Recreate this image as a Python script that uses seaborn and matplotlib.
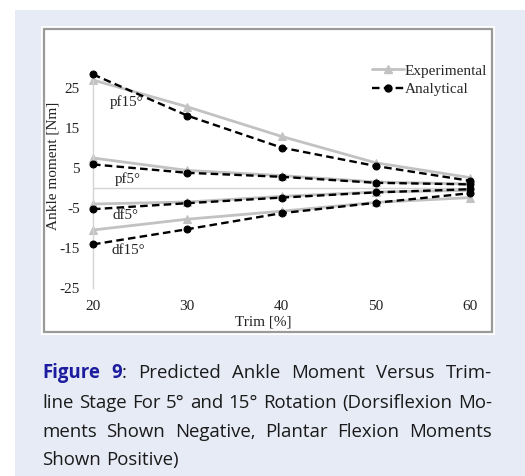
import numpy as np
import pandas as pd
import matplotlib
matplotlib.use("Agg")
import matplotlib.pyplot as plt
from matplotlib.lines import Line2D
from matplotlib.patches import Rectangle
import seaborn as sns

# ---------------- data ----------------
trim = [20, 30, 40, 50, 60]
exp_pf15 = [27.0, 20.3, 12.9, 6.3, 2.6]
ana_pf15 = [28.4, 18.1, 10.1, 5.5, 1.8]
exp_pf5 = [7.5, 4.4, 3.1, 1.5, 1.0]
ana_pf5 = [5.9, 3.8, 2.8, 1.3, 0.9]
exp_df5 = [-4.0, -3.5, -2.1, -1.0, -0.6]
ana_df5 = [-5.3, -3.8, -2.4, -1.1, -0.3]
exp_df15 = [-10.5, -7.8, -5.8, -3.6, -2.4]
ana_df15 = [-14.1, -10.3, -6.3, -3.7, -1.3]
curve_labels = ["pf15°", "pf5°", "df5°", "df15°"]
label_pos_x = [23.6, 23.7, 23.5, 23.7]
label_pos_y = [21.5, 2.3, -7.0, -15.6]
yticks = [-25, -15, -5, 5, 15, 25]
xticks = [20, 30, 40, 50, 60]

W, H = 525, 476
sns.set_theme(style="white")
plt.rcParams["font.family"] = ["Liberation Serif", "DejaVu Serif"]

fig = plt.figure(figsize=(W / 100, H / 100), dpi=100)
fig.patch.set_facecolor("white")

def fx(px):
    return px / W

def fy(py):
    return 1 - py / H

# background panel
fig.patches.append(Rectangle((fx(15), 0), fx(W - 15), fy(10), transform=fig.transFigure,
                             facecolor="#e7ebf6", edgecolor="none", zorder=-3))
# chart frame
fig.patches.append(Rectangle((fx(41), fy(335)), fx(495 - 41), (335 - 26) / H,
                             transform=fig.transFigure, facecolor="white",
                             edgecolor="none", zorder=-2))
fig.patches.append(Rectangle((fx(44), fy(332)), fx(492 - 44), (332 - 29) / H,
                             transform=fig.transFigure, facecolor="white",
                             edgecolor="#9a9a9a", lw=1.6, zorder=-1))

ax = fig.add_axes([fx(93), fy(288), fx(470 - 93), (288 - 68) / H])
ax.set_facecolor("none")
ax.set_xlim(20, 60)
ax.set_ylim(-25, 30)

rows = []
for name, e, a in zip(curve_labels, [exp_pf15, exp_pf5, exp_df5, exp_df15],
                      [ana_pf15, ana_pf5, ana_df5, ana_df15]):
    for t, v in zip(trim, e):
        rows.append(dict(trim=t, moment=v, curve=name, kind="Experimental"))
    for t, v in zip(trim, a):
        rows.append(dict(trim=t, moment=v, curve=name, kind="Analytical"))
df = pd.DataFrame(rows)

gray = "#c2c2c2"
# zero line (horizontal axis)
ax.axhline(0, color="#d4d4d4", lw=1.0, zorder=1)

for name in curve_labels:
    sub = df[(df.curve == name) & (df.kind == "Experimental")]
    sns.lineplot(data=sub, x="trim", y="moment", ax=ax, color=gray, lw=2.0,
                 marker="^", markersize=5.5, markeredgecolor=gray, legend=False,
                 zorder=2)
for name in curve_labels:
    sub = df[(df.curve == name) & (df.kind == "Analytical")]
    sns.lineplot(data=sub, x="trim", y="moment", ax=ax, color="black", lw=1.7,
                 marker="o", markersize=5, markeredgecolor="black", legend=False,
                 dashes=False, zorder=3)
    ax.lines[-1].set_dashes([3.2, 1.8])
for ln in ax.lines:
    ln.set_clip_on(False)

for lab, x, y in zip(curve_labels, label_pos_x, label_pos_y):
    ax.text(x, y, lab, fontsize=10.8, ha="center", va="center", color="#222222")

for s in ["top", "right", "bottom"]:
    ax.spines[s].set_visible(False)
ax.spines["left"].set_color("#d4d4d4")
ax.spines["left"].set_linewidth(1.0)
ax.spines["left"].set_bounds(-25, 27)

ax.set_xticks(xticks)
ax.set_yticks(yticks)
ax.set_xticklabels([str(v) for v in xticks])
ax.set_yticklabels([str(v) for v in yticks])
ax.tick_params(axis="both", length=0, labelsize=11, colors="#222222")
ax.tick_params(axis="y", pad=9.5)
ax.tick_params(axis="x", pad=8.5)
ax.set_xlabel("")
ax.set_ylabel("")
ax.grid(False)

fig.text(fx(263), fy(322), "Trim [%]", fontsize=11, ha="center", va="center",
         color="#222222")
fig.text(fx(53), fy(166), "Ankle moment [Nm]", fontsize=11, ha="center",
         va="center", rotation=90, color="#222222")

handles = [Line2D([], [], color=gray, lw=2.0, marker="^", markersize=5.5),
           Line2D([], [], color="black", lw=1.7, marker="o", markersize=5,
                  dashes=[3.2, 1.8])]
fig.legend(handles, ["Experimental", "Analytical"], loc="upper left",
           bbox_to_anchor=(fx(372), fy(64)), frameon=False, fontsize=11,
           borderpad=0, borderaxespad=0, handlelength=2.1, handletextpad=0.05,
           labelspacing=0.3, numpoints=1)

# ---------------- caption (justified) ----------------
cap_font = ["Open Sans", "DejaVu Sans"]
cap_size = 13.4
blue = "#1c1c9e"
text_color = "#1a1a1a"
caption_lines = [
    [[("Figure", "b")], [("9", "b"), (":", "n")], [("Predicted", "n")], [("Ankle", "n")],
     [("Moment", "n")], [("Versus", "n")], [("Trim-", "n")]],
    [[("line", "n")], [("Stage", "n")], [("For", "n")], [("5°", "n")], [("and", "n")],
     [("15°", "n")], [("Rotation", "n")], [("(Dorsiflexion", "n")], [("Mo-", "n")]],
    [[("ments", "n")], [("Shown", "n")], [("Negative,", "n")], [("Plantar", "n")],
     [("Flexion", "n")], [("Moments", "n")]],
    [[("Shown", "n")], [("Positive)", "n")]],
]
baselines = [378, 408, 437, 465]
justify = [True, True, True, False]
x0, x1 = 42, 492
renderer = fig.canvas.get_renderer()

for words, yb, jus in zip(caption_lines, baselines, justify):
    objs = []
    widths = []
    for word in words:
        runs = []
        wsum = 0
        for txt, st in word:
            t = fig.text(0, fy(yb), txt, fontsize=cap_size, family=cap_font,
                         fontweight="bold" if st == "b" else "normal",
                         color=blue if st == "b" else text_color,
                         ha="left", va="baseline")
            w = t.get_window_extent(renderer).width
            runs.append((t, w))
            wsum += w
        objs.append(runs)
        widths.append(wsum)
    space = fig.text(0, 0, "a a", fontsize=cap_size, family=cap_font)
    sw = space.get_window_extent(renderer).width
    aa = fig.text(0, 0, "aa", fontsize=cap_size, family=cap_font)
    sw -= aa.get_window_extent(renderer).width
    space.remove()
    aa.remove()
    if jus:
        gap = (x1 - x0 - sum(widths)) / (len(words) - 1)
    else:
        gap = sw
    x = x0
    for runs, w in zip(objs, widths):
        xx = x
        for t, rw in runs:
            t.set_x(fx(xx))
            xx += rw
        x += w + gap

fig.savefig("out.png", dpi=100, facecolor=fig.get_facecolor())
